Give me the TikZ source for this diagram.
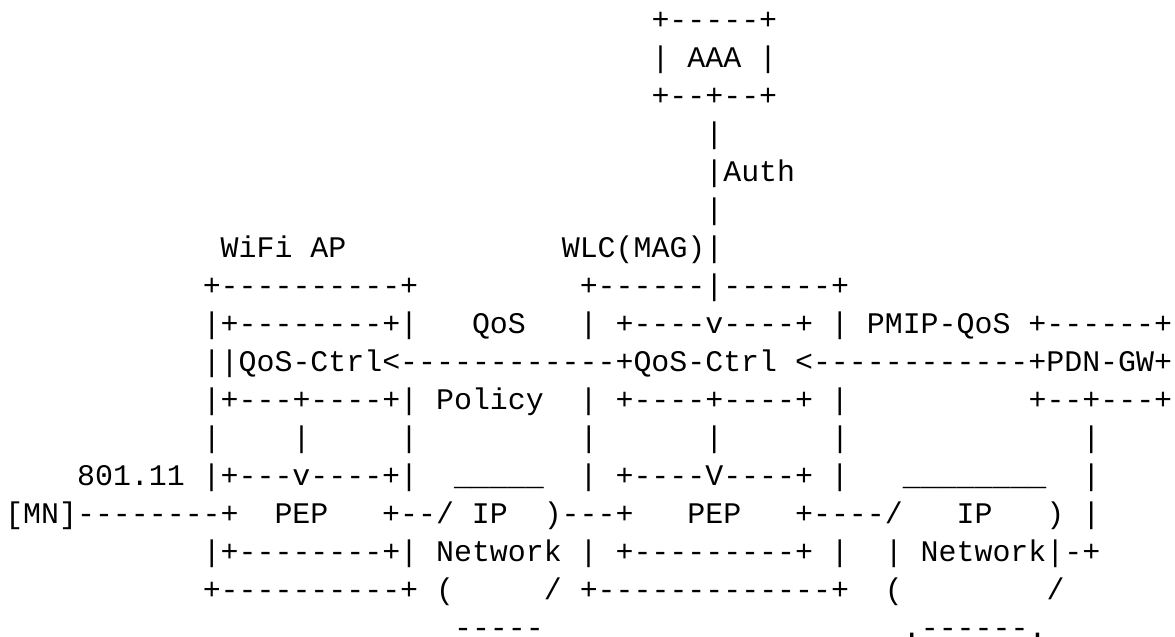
\documentclass[tikz,border=0pt]{standalone}
\usepackage{fontspec}
\setmonofont{Liberation Mono}
\usepackage{tikz}

\begin{document}
\begin{tikzpicture}[
	x=8.975pt,
	y=19pt,
	art/.style={
		anchor=base west,
		inner sep=0pt,
		outer sep=0pt,
		text=black,
		font=\ttfamily\fontsize{14.958pt}{19pt}\selectfont}]

    \useasboundingbox (-0.2953,-0.2368) rectangle (65.164,-16.974);
    % Place nodes
    \node [art] (aaatop) at (36,-1) {+-----+};
    \node [art] (aaa) at (36,-2) {|~AAA~|};
    \node [art] (aaabot) at (36,-3) {+--+--+};
    \node [art] (authup) at (39,-4) {|};
    \node [art] (auth) at (39,-5) {|Auth};
    \node [art] (authdown) at (39,-6) {|};
    \node [art] (names) at (12,-7) {WiFi~AP~~~~~~~~~~~~WLC(MAG)|};
    \node [art] (boxtop) at (11,-8) {+----------+~~~~~~~~~+------|------+};
    \node [art] (qos) at (11,-9) {|+--------+|~~~QoS~~~|~+----v----+~|~PMIP-QoS~+------+};
    \node [art] (ctrl) at (11,-10) {||QoS-Ctrl<------------+QoS-Ctrl~<------------+PDN-GW+};
    \node [art] (policy) at (11,-11) {|+---+----+|~Policy~~|~+----+----+~|~~~~~~~~~~+--+---+};
    \node [art] (bars) at (11,-12) {|~~~~|~~~~~|~~~~~~~~~|~~~~~~|~~~~~~|~~~~~~~~~~~~~|};
    \node [art] (wifi) at (4,-13) {801.11~|+---v----+|~~\_\_\_\_\_~~|~+----V----+~|~~~\_\_\_\_\_\_\_\_~~|};
    \node [art] (pep) at (0,-14) {[MN]--------+~~PEP~~~+--/~IP~~)---+~~~PEP~~~+----/~~~IP~~~)~|};
    \node [art] (network) at (11,-15) {|+--------+|~Network~|~+---------+~|~~|~Network|-+};
    \node [art] (boxbot) at (11,-16) {+----------+~(~~~~~/~+-------------+~~(~~~~~~~~/};
    \node [art] (cloud) at (25,-17) {-----~~~~~~~~~~~~~~~~~~~~.------.};
\end{tikzpicture}
\end{document}
